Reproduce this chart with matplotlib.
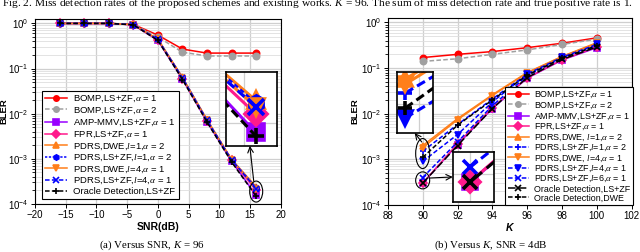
import matplotlib
matplotlib.use('Agg')
import numpy as np
import matplotlib.pyplot as plt
from matplotlib.patches import Ellipse
from matplotlib.transforms import ScaledTranslation
from matplotlib.ticker import NullLocator

plt.rcParams['font.family'] = ['Liberation Sans', 'DejaVu Sans']
plt.rcParams['mathtext.fontset'] = 'custom'
plt.rcParams['mathtext.rm'] = 'Liberation Sans'
plt.rcParams['mathtext.it'] = 'Liberation Serif:italic'
plt.rcParams['mathtext.bf'] = 'Liberation Sans:bold'

# (a) BLER versus SNR, K = 96
snr = [-16, -12, -8, -4, 0, 4, 8, 12, 16]
a_bomp1 = [1, 1, 1, 0.95, 0.55, 0.27, 0.22, 0.22, 0.22]
a_bomp2 = [1, 1, 1, 0.95, 0.50, 0.23, 0.19, 0.19, 0.19]
a_amp = [1, 1, 1, 0.93, 0.42, 0.058, 0.0066, 0.00088, 0.000155]
a_fpr = [1, 1, 1, 0.93, 0.43, 0.060, 0.0069, 0.00092, 0.00020]
a_dwe_l1 = [1, 1, 1, 0.94, 0.45, 0.064, 0.0074, 0.00098, 0.00024]
a_ls_l1 = [1, 1, 1, 0.94, 0.44, 0.063, 0.0072, 0.00096, 0.00023]
a_dwe_l4 = [1, 1, 1, 0.94, 0.44, 0.062, 0.0071, 0.00095, 0.00022]
a_ls_l4 = [1, 1, 1, 0.94, 0.44, 0.062, 0.0071, 0.00094, 0.00022]
a_oracle = [1, 1, 1, 0.93, 0.42, 0.057, 0.0065, 0.00085, 0.000148]

# (b) BLER versus K, SNR = 4dB
k_users = [90, 92, 94, 96, 98, 100]
b_bomp1 = [0.17, 0.20, 0.23, 0.28, 0.35, 0.46]
b_bomp2 = [0.14, 0.16, 0.20, 0.25, 0.33, 0.43]
b_amp = [0.00030, 0.0021, 0.013, 0.060, 0.150, 0.28]
b_fpr = [0.00030, 0.0022, 0.0135, 0.061, 0.152, 0.29]
b_dwe_l1 = [0.0020, 0.0078, 0.026, 0.080, 0.180, 0.36]
b_ls_l1 = [0.0015, 0.0058, 0.021, 0.075, 0.175, 0.34]
b_dwe_l4 = [0.0018, 0.0074, 0.025, 0.078, 0.178, 0.35]
b_ls_l4 = [0.0009, 0.0035, 0.018, 0.074, 0.172, 0.33]
b_ls_l6 = [0.0004, 0.0024, 0.015, 0.068, 0.165, 0.31]
b_oracle_ls = [0.00030, 0.0020, 0.013, 0.062, 0.155, 0.29]
b_oracle_dwe = [0.0011, 0.0056, 0.020, 0.070, 0.165, 0.31]

RED, GRAY, PURPLE, PINK = '#ff0000', '#a0a0a0', '#9900ff', '#ff1a8c'
ORANGE, BLUE = '#ff7f1a', '#0000ff'
DASH = (0, (3, 1.5))
DOT = (0, (1.5, 1))

series_a = [
    (a_bomp1, 'BOMP,LS+ZF,$\\alpha$ = 1', RED, '-', 'o'),
    (a_bomp2, 'BOMP,LS+ZF,$\\alpha$ = 2', GRAY, DASH, 'o'),
    (a_amp, 'AMP-MMV,LS+ZF,$\\alpha$ = 1', PURPLE, '-', 's'),
    (a_fpr, 'FPR,LS+ZF,$\\alpha$ = 1', PINK, '-', 'D'),
    (a_dwe_l1, 'PDRS,DWE,$l$=1,$\\alpha$ = 2', ORANGE, '-', '^'),
    (a_ls_l1, 'PDRS,LS+ZF,$l$=1,$\\alpha$ = 2', BLUE, DOT, 'h'),
    (a_dwe_l4, 'PDRS,DWE,$l$=4,$\\alpha$ = 1', ORANGE, '-', 'v'),
    (a_ls_l4, 'PDRS,LS+ZF,$l$=4,$\\alpha$ = 1', BLUE, DASH, 'x'),
    (a_oracle, 'Oracle Detection,LS+ZF', 'black', DASH, '+'),
]
series_b = [
    (b_bomp1, 'BOMP,LS+ZF,$\\alpha$ = 1', RED, '-', 'o'),
    (b_bomp2, 'BOMP,LS+ZF,$\\alpha$ = 2', GRAY, DASH, 'o'),
    (b_amp, 'AMP-MMV,LS+ZF,$\\alpha$ = 1', PURPLE, '-', 's'),
    (b_fpr, 'FPR,LS+ZF,$\\alpha$ = 1', PINK, '-', 'D'),
    (b_dwe_l1, 'PDRS,DWE, $l$=1,$\\alpha$ = 2', ORANGE, '-', '^'),
    (b_ls_l1, 'PDRS,LS+ZF,$l$=1,$\\alpha$ = 2', BLUE, DASH, '+'),
    (b_dwe_l4, 'PDRS,DWE, $l$=4,$\\alpha$ = 1', ORANGE, '-', 'v'),
    (b_ls_l4, 'PDRS,LS+ZF,$l$=4,$\\alpha$ = 1', BLUE, DASH, 'v'),
    (b_ls_l6, 'PDRS,LS+ZF,$l$=6,$\\alpha$ = 1', BLUE, DASH, 'x'),
    (b_oracle_ls, 'Oracle Detection,LS+ZF', 'black', (0, (5, 2)), 'x'),
    (b_oracle_dwe, 'Oracle Detection,DWE', 'black', DASH, '+'),
]


def draw(ax, x, series, ms=4.5, lw=1.1, mew=1.2, clip=False):
    for y, lab, c, ls, m in series:
        ax.plot(x, y, color=c, ls=ls, marker=m, ms=ms, lw=lw, mew=mew,
                mec=c, mfc=c, label=lab, clip_on=clip)


def style(ax):
    ax.set_yscale('log')
    ax.set_ylim(1e-4, 1.25)
    ax.grid(True, which='major', color='#cfcfcf', lw=0.9)
    ax.grid(True, which='minor', axis='y', color='#dedede', lw=0.6)
    ax.set_axisbelow(True)
    ax.tick_params(labelsize=7, length=3, width=0.7, pad=1.5)
    ax.tick_params(which='minor', length=2, width=0.6)
    for s in ax.spines.values():
        s.set_linewidth(0.8)
    ax.set_ylabel('BLER', fontsize=6.8, fontweight='bold')


def zoom_box(ax, rect, x, series, xlim, ylim, ygrid, xgrid, ms=11):
    ins = ax.inset_axes(rect)
    draw(ins, x, series, ms=ms, lw=2.2, mew=2.6, clip=True)
    ins.set_yscale('log')
    ins.set_xlim(*xlim)
    ins.set_ylim(*ylim)
    ins.yaxis.set_minor_locator(NullLocator())
    ins.set_xticks(xgrid)
    ins.set_yticks(ygrid)
    ins.tick_params(which='both', length=0, labelbottom=False, labelleft=False)
    ins.grid(True, color='#cfcfcf', lw=0.9)
    ins.set_axisbelow(True)
    for s in ins.spines.values():
        s.set_linewidth(1.2)
    return ins


def ring(ax, x, y, w, h):
    tr = fig.dpi_scale_trans + ScaledTranslation(x, y, ax.transData)
    ax.add_patch(Ellipse((0, 0), w, h, transform=tr, fill=False,
                         ec='black', lw=0.8, clip_on=False, zorder=5))


def legend(ax, anchor, fs, spacing):
    leg = ax.legend(loc='lower left', bbox_to_anchor=anchor, fontsize=fs,
                    handlelength=2.4, labelspacing=spacing, borderpad=0.3,
                    handletextpad=0.6, markerscale=0.85, fancybox=False,
                    edgecolor='black', framealpha=1, borderaxespad=0)
    leg.get_frame().set_linewidth(0.8)


fig = plt.figure(figsize=(6.4, 2.52), dpi=100)

# ---- (a) versus SNR
ax1 = fig.add_axes([0.0547, 0.1905, 0.384, 0.734])
draw(ax1, snr, series_a)
style(ax1)
ax1.set_xlim(-20, 20)
ax1.set_xticks(np.arange(-20, 21, 5))
ax1.set_xlabel('SNR(dB)', fontsize=7.5, fontweight='bold', labelpad=1)
ax1.yaxis.set_label_coords(-0.107, 0.5)
legend(ax1, (0.028, 0.027), 6.8, 0.12)
zoom_box(ax1, [0.776, 0.314, 0.207, 0.40], snr, series_a,
         (15.0, 16.7), (1.29e-4, 3.53e-4), [1.75e-4], [15.6], ms=11)
ring(ax1, snr[-1], np.sqrt(a_oracle[-1] * a_dwe_l1[-1]), 0.13, 0.21)
ax1.annotate('', xy=(0.874, 0.314), xycoords='axes fraction',
             xytext=(snr[-1] - 0.4, 3.2e-4), textcoords='data',
             arrowprops=dict(arrowstyle='->', color='black', lw=0.8,
                             shrinkA=0, shrinkB=0))

# ---- (b) versus K
ax2 = fig.add_axes([0.606, 0.1865, 0.381, 0.742])
draw(ax2, k_users, series_b)
style(ax2)
ax2.set_xlim(88, 102)
ax2.set_xticks(np.arange(88, 103, 2))
ax2.set_xlabel('K', fontsize=7.5, fontweight='bold', fontstyle='italic', labelpad=1)
ax2.yaxis.set_label_coords(-0.118, 0.5)
legend(ax2, (0.48, 0.0), 6.4, 0.0)
zoom_box(ax2, [0.037, 0.385, 0.148, 0.326], k_users, series_b,
         (89.85, 90.5), (6.6e-4, 2.31e-3), [1.2e-3], [90.25], ms=10)
zoom_box(ax2, [0.266, 0.016, 0.168, 0.267], k_users, series_b,
         (89.7, 90.4), (2.03e-4, 5.35e-4), [3.5e-4], [90.0], ms=10)
ring(ax2, k_users[0], np.sqrt(b_ls_l4[0] * b_dwe_l1[0]), 0.14, 0.30)
ring(ax2, k_users[0], np.sqrt(b_oracle_ls[0] * b_ls_l6[0]), 0.14, 0.17)
ax2.annotate('', xy=(0.11, 0.385), xycoords='axes fraction',
             xytext=(k_users[0] - 0.05, 2.4e-3), textcoords='data',
             arrowprops=dict(arrowstyle='->', color='black', lw=0.8,
                             shrinkA=0, shrinkB=0))
ax2.annotate('', xy=(0.266, 0.15), xycoords='axes fraction',
             xytext=(k_users[0] + 0.4, 3.9e-4), textcoords='data',
             arrowprops=dict(arrowstyle='->', color='black', lw=0.8,
                             shrinkA=0, shrinkB=0))

# ---- captions
serif = ['Liberation Serif', 'DejaVu Serif']
fig.text(0.003, 1 - 6 / 252, 'Fig. 2. Miss detection rates of the proposed schemes and existing works. '
         '$K$ = 96. The sum of miss detection rate and true positive rate is 1.',
         ha='left', va='baseline', fontsize=8.2, family=serif)
fig.text(152 / 640, 1 - 248 / 252, '(a) Versus SNR, $K$ = 96', ha='center',
         va='baseline', fontsize=7.8, family=serif)
fig.text(491 / 640, 1 - 248 / 252, '(b) Versus $K$, SNR = 4dB', ha='center',
         va='baseline', fontsize=7.8, family=serif)

fig.savefig('out.png', dpi=100)
